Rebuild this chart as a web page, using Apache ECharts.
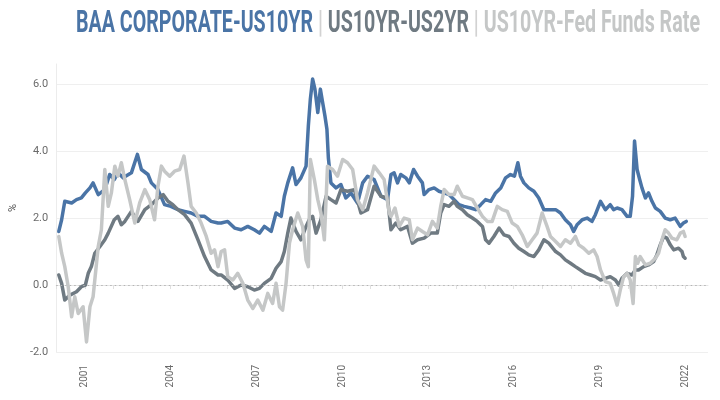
<!DOCTYPE html>
<html>
<head>
<meta charset="utf-8">
<script src="https://cdn.jsdelivr.net/npm/echarts@6/dist/echarts.min.js"></script>
<style>
html,body{margin:0;padding:0;background:#fff;}
#chart{width:720px;height:400px;}
</style>
</head>
<body>
<div id="chart"></div>
<script>
// Title parts
var titleParts = ['BAA CORPORATE-US10YR', 'US10YR-US2YR', 'US10YR-Fed Funds Rate'];
var yAxisName = '%';
// Year tick labels shown every 3 years from 2001
var yearLabelStart = 2001;
var yearLabelStep = 3;

// [decimal year, spread %]
var baaMinus10y = [
[2000.09,1.6],[2000.19,1.95],[2000.30,2.5],[2000.54,2.45],[2000.71,2.55],[2000.88,2.6],[2001.02,2.75],[2001.18,2.9],[2001.29,3.05],[2001.47,2.7],[2001.70,2.85],[2001.87,3.3],[2002.03,3.15],[2002.16,3.35],[2002.34,3.2],[2002.63,3.35],[2002.84,3.9],[2002.98,3.45],[2003.21,3.3],[2003.33,3.05],[2003.56,2.85],[2003.79,2.4],[2004.01,2.35],[2004.26,2.25],[2004.49,2.2],[2004.72,2.15],[2004.96,2.05],[2005.19,2.05],[2005.42,1.9],[2005.66,1.85],
[2005.77,1.85],[2006.00,1.9],[2006.24,1.7],[2006.47,1.65],[2006.70,1.75],[2006.93,1.65],[2007.11,1.55],[2007.28,1.75],[2007.52,1.6],[2007.69,2.15],[2007.87,2.05],[2007.98,2.65],[2008.10,3.05],[2008.27,3.5],[2008.39,3.0],[2008.56,3.2],[2008.74,3.55],[2008.82,4.75],[2008.89,5.55],[2008.97,6.15],[2009.05,5.85],[2009.15,5.15],[2009.24,5.85],[2009.32,5.45],[2009.40,5.05],[2009.47,4.65],[2009.52,3.8],[2009.61,3.05],[2009.79,2.9],[2009.96,3.0],[2010.13,2.6],[2010.31,2.75],[2010.54,2.45],[2010.72,3.05],[2010.89,3.25],[2011.12,3.15],[2011.36,2.65],[2011.59,2.55],
[2011.71,3.3],[2011.82,3.35],[2011.94,3.05],[2012.05,3.3],[2012.23,3.2],[2012.35,3.05],[2012.50,3.45],[2012.64,3.25],[2012.81,3.05],[2012.87,2.7],[2013.04,2.85],[2013.22,2.9],[2013.39,2.8],[2013.57,2.75],[2013.74,2.7],[2013.92,2.55],[2014.09,2.4],[2014.27,2.35],[2014.50,2.3],[2014.67,2.25],[2014.85,2.4],[2015.02,2.55],[2015.20,2.5],[2015.37,2.75],[2015.55,2.9],[2015.72,3.2],[2015.89,3.3],[2016.03,3.25],[2016.15,3.65],[2016.24,3.25],[2016.36,3.05],[2016.53,2.9],[2016.71,2.8],[2016.88,2.6],[2017.06,2.25],[2017.23,2.25],
[2017.29,2.3],[2017.47,2.25],[2017.64,2.15],[2017.81,1.95],[2017.99,1.8],[2018.10,1.6],[2018.22,1.8],[2018.40,1.95],[2018.57,2.0],[2018.74,1.9],[2018.86,2.1],[2019.04,2.5],[2019.21,2.25],[2019.38,2.4],[2019.50,2.25],[2019.62,2.3],[2019.79,2.25],[2019.97,2.05],[2020.08,2.05],[2020.16,2.65],[2020.23,4.3],[2020.32,3.45],[2020.41,3.15],[2020.49,2.9],[2020.61,2.6],[2020.72,2.75],[2020.84,2.5],[2020.96,2.3],[2021.13,2.2],[2021.30,2.0],[2021.48,1.95],[2021.65,2.0],[2021.83,1.75],[2021.94,1.85],[2022.04,1.9]
];

var us10yMinus2y = [
[2000.09,0.3],[2000.19,0.05],[2000.30,-0.45],[2000.48,-0.3],[2000.71,-0.2],[2000.88,-0.05],[2001.02,0.0],[2001.12,0.35],[2001.23,0.55],[2001.35,0.95],[2001.53,1.15],[2001.70,1.35],[2001.82,1.55],[2002.03,1.95],[2002.16,2.05],[2002.28,1.8],[2002.40,1.9],[2002.63,2.2],[2002.86,1.9],[2003.10,2.25],[2003.33,2.4],[2003.56,2.6],[2003.74,2.7],[2003.91,2.5],[2004.08,2.4],[2004.26,2.25],[2004.49,2.1],[2004.72,1.85],[2004.96,1.35],[2005.19,0.85],[2005.42,0.45],[2005.66,0.3],
[2005.77,0.3],[2006.00,0.15],[2006.24,-0.1],[2006.47,0.0],[2006.70,-0.05],[2006.93,-0.15],[2007.11,-0.1],[2007.28,0.05],[2007.52,0.2],[2007.69,0.5],[2007.87,0.7],[2007.98,1.0],[2008.10,1.55],[2008.21,2.0],[2008.39,1.6],[2008.56,1.35],[2008.74,1.75],[2008.85,1.95],[2008.97,2.05],[2009.09,1.55],[2009.26,1.95],[2009.44,2.65],[2009.61,2.55],[2009.79,2.45],[2009.96,2.85],[2010.19,2.8],[2010.43,2.85],[2010.66,2.15],[2010.89,2.25],[2011.12,2.95],[2011.36,2.65],[2011.59,2.6],
[2011.71,1.65],[2011.88,1.85],[2012.05,1.65],[2012.29,1.75],[2012.46,1.25],[2012.64,1.35],[2012.87,1.4],[2013.10,1.55],[2013.33,1.55],[2013.45,2.15],[2013.57,2.4],[2013.74,2.35],[2013.92,2.5],[2014.03,2.35],[2014.21,2.25],[2014.38,2.1],[2014.56,2.0],[2014.73,1.9],[2014.91,1.75],[2015.02,1.35],[2015.14,1.25],[2015.31,1.45],[2015.49,1.7],[2015.66,1.5],[2015.84,1.45],[2016.01,1.25],[2016.18,1.1],[2016.36,1.0],[2016.53,0.9],[2016.71,0.85],[2016.88,1.05],[2017.06,1.35],[2017.23,1.25],
[2017.29,1.2],[2017.47,1.0],[2017.64,0.9],[2017.81,0.75],[2017.99,0.65],[2018.16,0.55],[2018.34,0.45],[2018.51,0.35],[2018.69,0.3],[2018.86,0.25],[2019.04,0.15],[2019.21,0.2],[2019.38,0.25],[2019.56,0.15],[2019.68,0.0],[2019.79,0.2],[2019.97,0.35],[2020.14,0.3],[2020.26,0.45],[2020.37,0.45],[2020.55,0.55],[2020.72,0.6],[2020.90,0.7],[2021.01,0.9],[2021.13,1.2],[2021.25,1.45],[2021.36,1.4],[2021.48,1.2],[2021.60,1.05],[2021.77,1.1],[2021.89,1.0],[2021.94,0.85],[2022.00,0.8]
];

var us10yMinusFedFunds = [
[2000.09,1.45],[2000.19,0.95],[2000.30,0.55],[2000.42,-0.05],[2000.54,-0.95],[2000.65,-0.35],[2000.77,-0.85],[2000.94,-0.65],[2001.06,-1.7],[2001.18,-0.65],[2001.29,-0.35],[2001.35,0.15],[2001.47,1.15],[2001.58,1.65],[2001.70,3.45],[2001.82,2.35],[2001.93,2.75],[2002.05,3.55],[2002.16,3.25],[2002.28,3.65],[2002.40,3.15],[2002.57,2.55],[2002.75,1.85],[2002.92,2.45],[2003.10,2.85],[2003.27,2.55],[2003.44,1.95],[2003.56,2.95],[2003.68,3.55],[2003.79,3.4],[2003.97,3.25],[2004.14,3.4],[2004.32,3.45],[2004.47,3.85],[2004.61,3.05],[2004.72,2.35],[2004.90,2.15],[2005.07,1.85],[2005.25,1.45],[2005.42,0.95],[2005.54,1.05],[2005.66,0.55],
[2005.77,1.0],[2005.89,1.05],[2006.00,0.25],[2006.18,0.15],[2006.35,0.35],[2006.53,0.05],[2006.70,-0.45],[2006.88,-0.7],[2007.05,-0.45],[2007.23,-0.75],[2007.40,-0.25],[2007.57,-0.55],[2007.69,0.05],[2007.81,-0.65],[2007.92,-0.75],[2008.04,0.05],[2008.16,1.25],[2008.27,1.65],[2008.45,2.15],[2008.62,1.75],[2008.74,0.75],[2008.82,0.55],[2008.89,3.75],[2009.03,3.15],[2009.15,2.55],[2009.26,2.15],[2009.38,1.35],[2009.49,3.55],[2009.67,3.45],[2009.84,3.25],[2010.02,3.75],[2010.19,3.65],[2010.37,3.45],[2010.54,2.55],[2010.72,2.25],[2010.89,2.75],[2011.12,3.55],[2011.30,3.35],[2011.47,3.15],[2011.65,2.15],
[2011.71,2.05],[2011.85,2.3],[2012.00,1.75],[2012.17,2.0],[2012.35,1.95],[2012.46,1.35],[2012.64,1.7],[2012.81,1.6],[2012.99,1.5],[2013.16,1.9],[2013.33,1.7],[2013.45,2.35],[2013.57,2.85],[2013.74,2.7],[2013.92,2.7],[2014.03,2.95],[2014.21,2.65],[2014.38,2.6],[2014.56,2.55],[2014.73,2.3],[2014.91,2.05],[2015.08,1.9],[2015.25,1.9],[2015.43,2.35],[2015.60,2.25],[2015.78,2.2],[2015.95,1.85],[2016.13,1.75],[2016.30,1.5],[2016.48,1.15],[2016.65,1.35],[2016.82,1.55],[2017.00,2.15],[2017.17,1.75],
[2017.29,1.45],[2017.47,1.3],[2017.64,1.15],[2017.81,1.35],[2017.99,1.25],[2018.16,1.45],[2018.28,1.2],[2018.45,1.1],[2018.63,0.95],[2018.80,1.05],[2018.92,0.85],[2019.04,0.45],[2019.21,0.1],[2019.38,0.05],[2019.50,-0.25],[2019.62,-0.6],[2019.73,-0.15],[2019.85,0.25],[2019.97,0.35],[2020.08,0.15],[2020.18,-0.55],[2020.26,0.85],[2020.34,0.65],[2020.43,0.85],[2020.61,0.6],[2020.78,0.65],[2020.96,0.8],[2021.07,0.95],[2021.19,1.35],[2021.30,1.65],[2021.42,1.55],[2021.54,1.4],[2021.71,1.35],[2021.83,1.55],[2021.94,1.6],[2022.00,1.45]
];

var colBlue = '#4a74a6';
var colDark = '#6f7a82';
var colLight = '#c5c7c7';
var colSep = '#d2d2d2';

var titleFont = 'bold 31px Roboto, "DejaVu Sans", sans-serif';
var sep = ' | ';
var fullTitle = titleParts[0] + sep + titleParts[1] + sep + titleParts[2];
var cv = document.createElement('canvas').getContext('2d');
cv.font = titleFont;
var tw = cv.measureText(fullTitle).width;
var titleScale = 624 / tw;

var chart = echarts.init(document.getElementById('chart'), null, {renderer: 'canvas'});

function lineSeries(name, data, color, z) {
  return {
    name: name, type: 'line', data: data, showSymbol: false, symbol: 'none',
    z: z, lineStyle: {color: color, width: 3.5, join: 'round', cap: 'round'},
    itemStyle: {color: color}, clip: false, animation: false
  };
}

var s0 = lineSeries(titleParts[0], baaMinus10y, colBlue, 3);
s0.markLine = {
  silent: true, symbol: 'none', label: {show: false}, animation: false,
  lineStyle: {color: '#b4b4b4', type: [1.5, 3], width: 1},
  data: [{yAxis: 0}]
};

var option = {
  backgroundColor: '#fff',
  animation: false,
  grid: {left: 56, right: 12, top: 64, bottom: 48, containLabel: false},
  graphic: [{
    type: 'text', x: 388, y: 24, scaleX: titleScale, scaleY: 1,
    style: {
      text: '{a|' + titleParts[0] + '}{s|' + sep + '}{b|' + titleParts[1] + '}{s|' + sep + '}{c|' + titleParts[2] + '}',
      align: 'center', verticalAlign: 'middle', font: titleFont,
      rich: {
        a: {fill: colBlue, font: titleFont},
        b: {fill: colDark, font: titleFont},
        c: {fill: colLight, font: titleFont},
        s: {fill: colSep, font: titleFont}
      }
    }
  }],
  xAxis: {
    type: 'value', min: 2000, max: 2022.8, interval: 1, offset: 7,
    axisLine: {show: true, lineStyle: {color: '#e6e6e6', width: 1}},
    axisTick: {show: true, length: 4, lineStyle: {color: '#e0e0e0'}},
    splitLine: {show: false},
    axisLabel: {
      rotate: 90, margin: 6, fontSize: 10, color: '#6a6a6a',
      fontFamily: 'Roboto, sans-serif',
      showMaxLabel: false,
      formatter: function (v) {
        var r = Math.round(v);
        if (Math.abs(v - r) > 1e-6) return '';
        return ((r - yearLabelStart) % yearLabelStep === 0) ? String(r) : '';
      }
    }
  },
  yAxis: {
    type: 'value', min: -2, max: 6.6, interval: 2,
    name: yAxisName, nameLocation: 'middle', nameRotate: 90, nameGap: 34,
    nameTextStyle: {color: '#555', fontSize: 11, fontFamily: 'Roboto, sans-serif'},
    axisLine: {show: true, lineStyle: {color: '#ececec', width: 1}},
    axisTick: {show: false},
    splitLine: {show: true, showMaxLine: false, lineStyle: {color: ['#efefef', 'rgba(0,0,0,0)', '#efefef', '#efefef', '#efefef'], width: 1}},
    axisLabel: {
      margin: 8, fontSize: 11, color: '#6a6a6a', fontFamily: 'Roboto, sans-serif',
      showMaxLabel: false,
      formatter: function (v) {
        var r = Math.round(v);
        if (Math.abs(v - r) > 1e-6 || r % 2 !== 0) return '';
        return r.toFixed(1);
      }
    }
  },
  series: [
    s0,
    lineSeries(titleParts[1], us10yMinus2y, colDark, 4),
    lineSeries(titleParts[2], us10yMinusFedFunds, colLight, 5)
  ]
};
chart.setOption(option);
</script>
</body>
</html>
